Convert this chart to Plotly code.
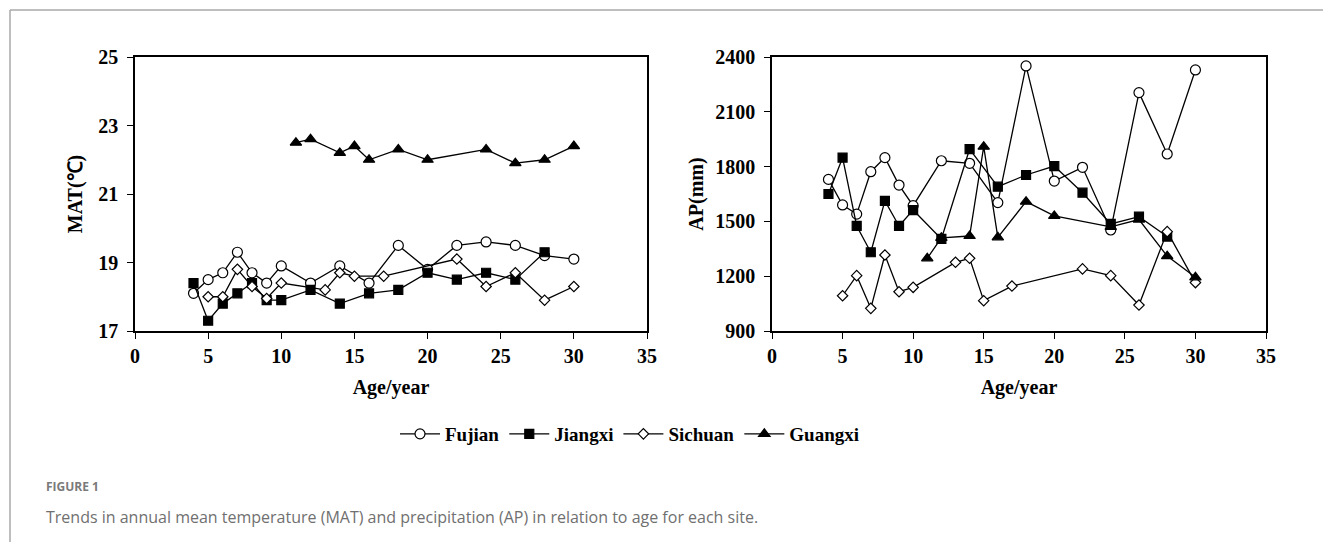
import plotly.graph_objects as go

# ---- Data ----
sites = ["Fujian", "Jiangxi", "Sichuan", "Guangxi"]

# Mean annual temperature (MAT, °C)
fujian_mat_age = [4, 5, 6, 7, 8, 9, 10, 12, 14, 16, 18, 20, 22, 24, 26, 28, 30]
fujian_mat = [18.1, 18.5, 18.7, 19.3, 18.7, 18.4, 18.9, 18.4, 18.9, 18.4, 19.5, 18.8, 19.5, 19.6, 19.5, 19.2, 19.1]
jiangxi_mat_age = [4, 5, 6, 7, 8, 9, 10, 12, 14, 16, 18, 20, 22, 24, 26, 28]
jiangxi_mat = [18.4, 17.3, 17.8, 18.1, 18.4, 17.9, 17.9, 18.2, 17.8, 18.1, 18.2, 18.7, 18.5, 18.7, 18.5, 19.3]
sichuan_mat_age = [5, 6, 7, 8, 9, 10, 13, 14, 15, 17, 22, 24, 26, 28, 30]
sichuan_mat = [18.0, 18.0, 18.8, 18.3, 17.95, 18.4, 18.2, 18.7, 18.6, 18.6, 19.1, 18.3, 18.7, 17.9, 18.3]
guangxi_mat_age = [11, 12, 14, 15, 16, 18, 20, 24, 26, 28, 30]
guangxi_mat = [22.5, 22.6, 22.2, 22.4, 22.0, 22.3, 22.0, 22.3, 21.9, 22.0, 22.4]

# Annual precipitation (AP, mm)
fujian_ap_age = [4, 5, 6, 7, 8, 9, 10, 12, 14, 16, 18, 20, 22, 24, 26, 28, 30]
fujian_ap = [1730, 1590, 1540, 1772, 1849, 1699, 1586, 1832, 1818, 1603, 2351, 1721, 1796, 1453, 2205, 1869, 2329]
jiangxi_ap_age = [4, 5, 6, 7, 8, 9, 10, 12, 14, 16, 18, 20, 22, 24, 26, 28]
jiangxi_ap = [1650, 1849, 1475, 1331, 1612, 1475, 1562, 1404, 1896, 1690, 1754, 1803, 1657, 1486, 1526, 1417]
sichuan_ap_age = [5, 6, 7, 8, 9, 10, 13, 14, 15, 17, 22, 24, 26, 28, 30]
sichuan_ap = [1093, 1203, 1024, 1316, 1115, 1139, 1276, 1298, 1066, 1146, 1240, 1203, 1042, 1444, 1165]
guangxi_ap_age = [11, 12, 14, 15, 16, 18, 20, 24, 26, 28, 30]
guangxi_ap = [1298, 1410, 1420, 1909, 1413, 1608, 1530, 1470, 1510, 1310, 1194]

mat_ticks = [17, 19, 21, 23, 25]
ap_ticks = [900, 1200, 1500, 1800, 2100, 2400]
age_ticks = [0, 5, 10, 15, 20, 25, 30, 35]

caption_head = "FIGURE 1"
caption_text = "Trends in annual mean temperature (MAT) and precipitation (AP) in relation to age for each site."

# ---- Styles ----
styles = {
    "Fujian": dict(symbol="circle", size=10, color="white"),
    "Jiangxi": dict(symbol="square", size=9, color="black"),
    "Sichuan": dict(symbol="diamond", size=8, color="white"),
    "Guangxi": dict(symbol="triangle-up", size=10, color="black"),
}

mat_data = {
    "Fujian": (fujian_mat_age, fujian_mat),
    "Jiangxi": (jiangxi_mat_age, jiangxi_mat),
    "Sichuan": (sichuan_mat_age, sichuan_mat),
    "Guangxi": (guangxi_mat_age, guangxi_mat),
}
ap_data = {
    "Fujian": (fujian_ap_age, fujian_ap),
    "Jiangxi": (jiangxi_ap_age, jiangxi_ap),
    "Sichuan": (sichuan_ap_age, sichuan_ap),
    "Guangxi": (guangxi_ap_age, guangxi_ap),
}

fig = go.Figure()
for name in sites:
    st = styles[name]
    for (data, xa, ya, show) in [(mat_data, "x", "y", True), (ap_data, "x2", "y2", False)]:
        xs, ys = data[name]
        fig.add_trace(go.Scatter(
            x=xs, y=ys, mode="lines+markers", name=name, showlegend=show,
            xaxis=xa, yaxis=ya,
            line=dict(color="black", width=1.3),
            marker=dict(symbol=st["symbol"], size=st["size"], color=st["color"],
                        line=dict(color="black", width=1.2)),
        ))

W, H = 1331, 542
OFF = 8  # page body margin
serif = "Liberation Serif, Times New Roman, serif"
tickfont = dict(family=serif, size=20, color="black", weight="bold")
titlefont = dict(family=serif, size=20, color="black", weight="bold")

def px_x(p):
    return (p - OFF) / W

def px_y(p):
    return 1 - (p - OFF) / H

axis_common = dict(showline=True, linecolor="black", linewidth=1.5, mirror=True,
                   ticks="outside", ticklen=6, tickwidth=1.3, tickcolor="black",
                   showgrid=False, zeroline=False, tickfont=tickfont, automargin=False)

fig.update_layout(
    width=W, height=H,
    margin=dict(l=0, r=0, t=0, b=0, pad=0, autoexpand=False),
    paper_bgcolor="white", plot_bgcolor="white",
    xaxis=dict(domain=[px_x(135), px_x(647)], range=[0, 35], tickvals=age_ticks,
               anchor="y", title=dict(text="Age/year", font=titlefont, standoff=14), **axis_common),
    yaxis=dict(domain=[px_y(331), px_y(57)], range=[17, 25], tickvals=mat_ticks,
               anchor="x", ticklabelstandoff=5,
               title=dict(text="MAT(℃)", font=titlefont, standoff=10), **axis_common),
    xaxis2=dict(domain=[px_x(772), px_x(1266)], range=[0, 35], tickvals=age_ticks,
                anchor="y2", title=dict(text="Age/year", font=titlefont, standoff=14), **axis_common),
    yaxis2=dict(domain=[px_y(331), px_y(57)], range=[900, 2400], tickvals=ap_ticks,
                anchor="x2", ticklabelstandoff=5,
                title=dict(text="AP(mm)", font=titlefont, standoff=6), **axis_common),
    legend=dict(orientation="h", x=px_x(630), xanchor="center", y=px_y(434), yanchor="middle",
                font=dict(family=serif, size=19, color="black", weight="bold"),
                bgcolor="rgba(0,0,0,0)", itemwidth=40, tracegroupgap=0),
    showlegend=True,
)

# frame lines (top and left of figure panel)
fig.add_shape(type="line", xref="paper", yref="paper", x0=px_x(10), x1=1.01, y0=px_y(10), y1=px_y(10),
              line=dict(color="#a8a8a8", width=1.5))
fig.add_shape(type="line", xref="paper", yref="paper", x0=px_x(10), x1=px_x(10), y0=px_y(10), y1=-0.01,
              line=dict(color="#a8a8a8", width=1.5))

fig.add_annotation(text="<b>" + caption_head + "</b>", xref="paper", yref="paper",
                   x=px_x(44), y=px_y(486), xanchor="left", yanchor="middle", showarrow=False,
                   font=dict(family="Open Sans, Noto Sans, sans-serif", size=12, color="#7a7a7a"))
fig.add_annotation(text=caption_text, xref="paper", yref="paper",
                   x=px_x(44), y=px_y(517), xanchor="left", yanchor="middle", showarrow=False,
                   font=dict(family="Open Sans, Noto Sans, sans-serif", size=16, color="#707070"))

fig.write_html("out.html")
